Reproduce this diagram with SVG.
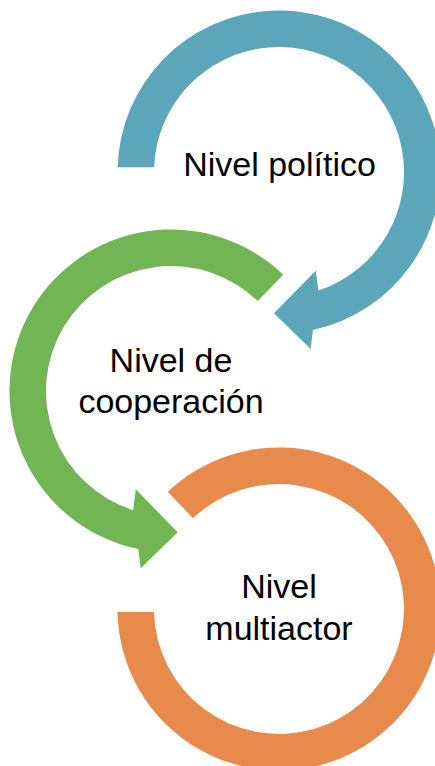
<svg xmlns="http://www.w3.org/2000/svg" width="435" height="766" viewBox="0 0 435 766">
  <style>
    .lbl { font-family: "Liberation Sans", Arial, sans-serif; font-size: 34px; fill: #000000; text-anchor: middle; }
    .blue { fill: #5BA6BA; }
    .green { fill: #72B554; }
    .orange { fill: #E88A4B; }
  </style>
  <rect width="435" height="766" fill="#FFFFFF"/>
  <g id="node-politico">
    <path class="blue" d="M117.6,167.3 A161.5,161.5 0 1 1 312.85,329.9 L310.7,349 L274,313.3 L315.7,270.7 L318.5,290.6 A125,125 0 1 0 154.1,167.3 Z"/>
    <text class="lbl" x="279.5" y="176">Nivel político</text>
  </g>
  <g id="node-cooperacion">
    <path class="green" d="M283.2,274.8 A161.5,161.5 0 1 0 138.25,549.1 L140.7,568.3 L177.7,532.3 L135.7,489.3 L133.2,510.2 A125,125 0 1 1 257.8,301.1 Z"/>
    <text class="lbl" x="171" y="372">Nivel de</text>
    <text class="lbl" x="171" y="413">cooperación</text>
  </g>
  <g id="node-multiactor">
    <path class="orange" d="M167.8,491.8 A161.5,161.5 0 1 1 117.5,612 L154,612 A125,125 0 1 0 192.95,518.3 Z"/>
    <text class="lbl" x="279" y="598">Nivel</text>
    <text class="lbl" x="279" y="640">multiactor</text>
  </g>
</svg>
